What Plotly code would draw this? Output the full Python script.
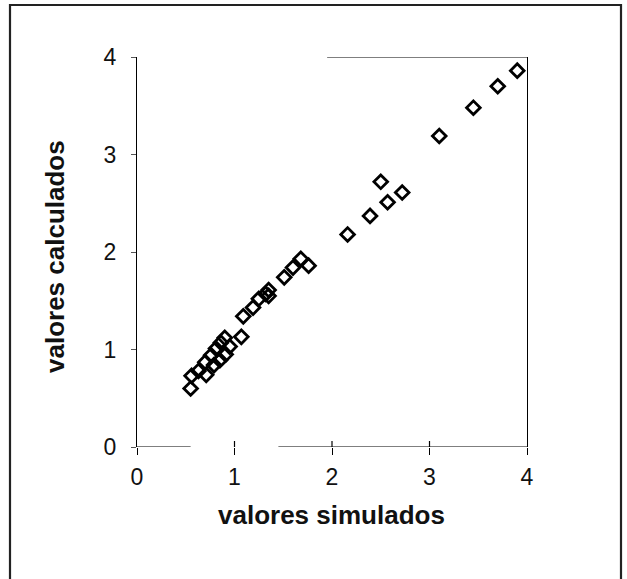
import plotly.graph_objects as go

# Simulated vs calculated values
simulados = [0.55, 0.56, 0.63, 0.71, 0.70, 0.79, 0.76, 0.85, 0.81, 0.91, 0.86,
             0.90, 0.95, 1.07, 1.09, 1.19, 1.25, 1.32, 1.35, 1.35, 1.51, 1.60,
             1.68, 1.76, 2.16, 2.39, 2.57, 2.50, 2.72, 3.10, 3.45, 3.70, 3.90]
calculados = [0.60, 0.73, 0.78, 0.74, 0.87, 0.84, 0.94, 0.89, 1.01, 0.95, 1.07,
              1.12, 1.03, 1.13, 1.34, 1.43, 1.52, 1.57, 1.61, 1.55, 1.74, 1.84,
              1.93, 1.86, 2.18, 2.37, 2.51, 2.72, 2.61, 3.19, 3.48, 3.70, 3.86]

x_ticks = [0, 1, 2, 3, 4]
y_ticks = [0, 1, 2, 3, 4]
x_title = "valores simulados"
y_title = "valores calculados"

W, H = 627, 579
L, R, T, B = 137, 100, 57, 132
pw, ph = W - L - R, H - T - B

FONT = "Liberation Sans, Arial, Helvetica, sans-serif"


def px_to_paper_x(px):
    return (px - L) / pw


def px_to_paper_y(py):
    return (H - B - py) / ph


fig = go.Figure(
    go.Scatter(
        x=simulados,
        y=calculados,
        mode="markers",
        marker=dict(symbol="diamond-open", size=10.5, color="black",
                    line=dict(width=2.8, color="black")),
        hoverinfo="x+y",
    )
)

shapes = []
# outer frame around the whole figure
shapes.append(dict(type="rect", xref="paper", yref="paper",
                   x0=px_to_paper_x(10), x1=px_to_paper_x(621),
                   y0=px_to_paper_y(600), y1=px_to_paper_y(5),
                   line=dict(color="#222", width=2.2)))
# top border of the plot area (right part only)
shapes.append(dict(type="line", xref="x", yref="y", x0=1.95, x1=4, y0=4, y1=4,
                   line=dict(color="black", width=1.2)))
# bottom axis line segments
for a, b in [(0, 0.55), (1.45, 4)]:
    shapes.append(dict(type="line", xref="x", yref="y", x0=a, x1=b, y0=0, y1=0,
                       line=dict(color="black", width=1.2)))
# inner halves of the x tick crosses
for t in x_ticks[1:-1]:
    shapes.append(dict(type="line", xref="x", yref="y", ysizemode="pixel",
                       yanchor=0, x0=t, x1=t, y0=0, y1=6,
                       line=dict(color="black", width=1.2)))

fig.update_layout(
    width=W, height=H,
    margin=dict(l=L, r=R, t=T, b=B),
    paper_bgcolor="white", plot_bgcolor="white",
    showlegend=False,
    font=dict(family=FONT, color="#111"),
    shapes=shapes,
    xaxis=dict(range=[0, 4], tickvals=x_ticks, ticks="outside", ticklen=7,
               tickwidth=1.2, tickcolor="black", showgrid=False, zeroline=False,
               showline=False, tickfont=dict(size=23, family=FONT),
               ticklabelstandoff=2),
    yaxis=dict(range=[0, 4], tickvals=y_ticks, ticks="outside", ticklen=5,
               tickwidth=1, tickcolor="#555", showgrid=False, zeroline=False,
               showline=True, mirror=True, linecolor="black", linewidth=1.2,
               tickfont=dict(size=23, family=FONT), ticklabelstandoff=10),
    annotations=[
        dict(text=x_title, xref="paper", yref="paper",
             x=px_to_paper_x(331), y=px_to_paper_y(515),
             xanchor="center", yanchor="middle", showarrow=False,
             font=dict(size=26, family=FONT, weight="bold", color="#111")),
        dict(text=y_title, xref="paper", yref="paper",
             x=px_to_paper_x(55), y=px_to_paper_y(257), textangle=-90,
             xanchor="center", yanchor="middle", showarrow=False,
             font=dict(size=26, family=FONT, weight="bold", color="#111")),
    ],
)

fig.write_html("out.html")
